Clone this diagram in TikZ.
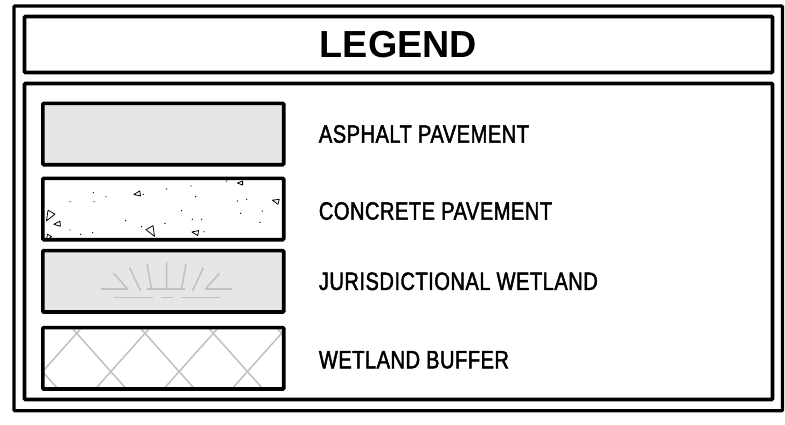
\documentclass[tikz,border=0pt]{standalone}
\usepackage{fontspec}
\setmainfont{Liberation Sans}
\newfontfamily\cadfont[FakeStretch=0.8,FakeBold=1.8,LetterSpace=2]{Liberation Sans}
\usepackage{tikz}
\usetikzlibrary{positioning}

\definecolor{padgray}{HTML}{E6E6E6}
\definecolor{hatchgray}{HTML}{C0C0C0}

\begin{document}
\begin{tikzpicture}[
  x=1pt,y=-1pt,
  boxframe/.style={draw,line width=3.6pt,rounded corners=1pt,inner sep=0pt},
  swatch/.style={inner sep=0pt,minimum width=240.5pt,minimum height=61pt},
  itemtext/.style={inner sep=0pt,font=\cadfont\fontsize{25.1}{26}\selectfont},
  hatch/.style={line width=1.5pt,draw=hatchgray},
  grit/.style={line width=0.8pt,line join=round}
]
  \useasboundingbox (0,0) rectangle (785,424);

  % ---------- frames ----------
  \node[boxframe,line width=3.2pt,minimum width=768.5pt,minimum height=404.8pt] (outer) at (398.25,208.4) {};
  \node[boxframe,minimum width=748pt,minimum height=56pt,
        font=\bfseries\fontsize{37.7}{40}\selectfont] (head) at (398.5,44.5) {LEGEND};
  \node[boxframe,minimum width=748pt,minimum height=316pt] (body) at (398.5,241.5) {};

  % ---------- swatches ----------
  \node[swatch,fill=padgray] (asph) at (163.25,134) {};
  \node[swatch] (conc) at (163.25,209) {};
  \node[swatch,fill=padgray] (wet) at (163.25,281.3) {};
  \node[swatch] (buff) at (163.25,358.3) {};

  % concrete: dots and aggregate
  \begin{scope}
    \clip (conc.south west) rectangle (conc.north east);
    \foreach \x/\y in {93.3/192.7,106/196.7,70/201.7,94/201.7,143.3/194.3,166.7/189,
                       191/186,195.7/196.7,181.7/210.7,192.3/219.3,201.7/219.3,165/223.3,
                       125.7/220.7,141.7/226.7,70/230,80.7/234.3,92.7/232.7,204/231.7,
                       226.7/181,237.3/201,246.7/199.3,240.7/213.3,262.3/211,260/222.3}
      \fill (\x,\y) circle (0.7);
    \foreach \x/\y/\a/\s in {240/183/0/2.6,137/194/10/3.2,275.5/201/-15/3.2,49/216.5/60/5,
                             57/224/5/3.2,152/232/120/5,195/232.5/-10/3.2,48/238/60/3}
      \draw[grit,shift={(\x,\y)},rotate=\a] (-\s,0) -- (\s,-0.8*\s) -- (\s,0.8*\s) -- cycle;
  \end{scope}

  % wetland tuft
  \draw[hatch] (101,289) -- (127.5,289) (147,289) -- (185,289) (205,289) -- (232,289);
  \draw[hatch] (113.5,297.3) -- (152.5,297.3) (160.5,297.3) -- (172.5,297.3)
               (180.5,297.3) -- (219.5,297.3);
  \draw[hatch] (113.5,273) -- (127.5,289) (129.5,267.5) -- (140.5,291)
               (147,263.5) -- (151.5,289) (166.5,262) -- (166.5,289)
               (186,263.5) -- (181.5,289) (203.5,267.5) -- (192.5,291)
               (219.5,273) -- (205.5,289);

  % buffer cross hatch
  \begin{scope}
    \clip (buff.south west) rectangle (buff.north east);
    \foreach \k in {-2,...,4}{
      \draw[hatch] ({76.7+68.3*\k-70},{333.3-78.4}) -- ({76.7+68.3*\k+70},{333.3+78.4});
      \draw[hatch] ({76.7+68.3*\k+70},{333.3-78.4}) -- ({76.7+68.3*\k-70},{333.3+78.4});
    }
  \end{scope}

  \foreach \n in {asph,conc,wet,buff}
    \draw[boxframe] (\n.south west) rectangle (\n.north east);

  % ---------- labels ----------
  \node[itemtext,right=35pt of asph] (asphtext) {ASPHALT PAVEMENT};
  \node[itemtext,right=35pt of conc,yshift=-2pt] (conctext) {CONCRETE PAVEMENT};
  \node[itemtext,right=35pt of wet] (wettext) {JURISDICTIONAL WETLAND};
  \node[itemtext,right=35pt of buff,yshift=-1.5pt] (bufftext) {WETLAND BUFFER};
\end{tikzpicture}
\end{document}
